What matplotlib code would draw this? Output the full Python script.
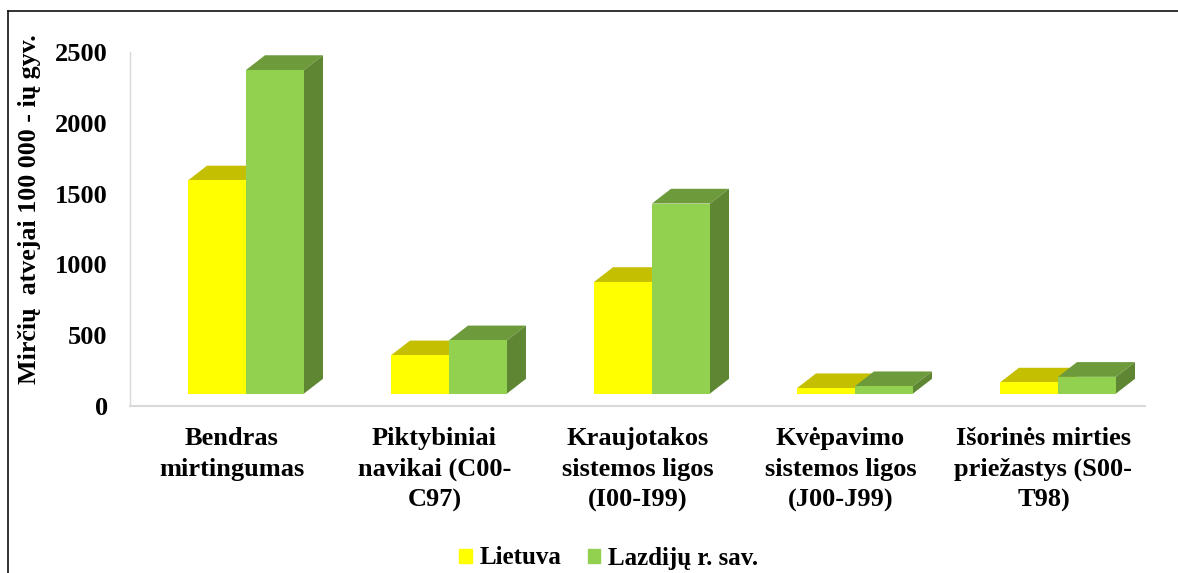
import matplotlib.pyplot as plt
from matplotlib.lines import Line2D
from matplotlib.patches import Patch, Polygon

plt.rcParams['font.family'] = ['Liberation Serif', 'DejaVu Serif']
plt.rcParams['font.weight'] = 'bold'

# duomenys
categories = ['Bendras\nmirtingumas', 'Piktybiniai\nnavikai (C00-\nC97)',
              'Kraujotakos\nsistemos ligos\n(I00-I99)', 'Kvėpavimo\nsistemos ligos\n(J00-J99)',
              'Išorinės mirties\npriežastys (S00-\nT98)']
lietuva = [1505, 270, 788, 38, 78]
lazdijai = [2285, 376, 1342, 52, 118]
y_ticks = [0, 500, 1000, 1500, 2000, 2500]

W, H = 1178, 573
fig = plt.figure(figsize=(W / 100, H / 100), dpi=100)
ax = fig.add_axes([130 / W, 1 - 406 / H, 1015 / W, 354 / H])
ax.set_xlim(-0.5, 4.5)
ax.set_ylim(0, 2500)

# 3D bar look: depth in data units
bar_w = 0.2857
depth_x = 0.0936
depth_y = 104
floor = 88
shift = 0.0714


def draw_bar(x_left, value, front, top, side):
    h = floor + value
    ax.bar(x_left, value, bar_w, bottom=floor, align='edge', color=front, zorder=3)
    ax.add_patch(Polygon([(x_left, h), (x_left + bar_w, h),
                          (x_left + bar_w + depth_x, h + depth_y), (x_left + depth_x, h + depth_y)],
                         facecolor=top, edgecolor='none', zorder=2))
    ax.add_patch(Polygon([(x_left + bar_w, floor), (x_left + bar_w + depth_x, floor + depth_y),
                          (x_left + bar_w + depth_x, h + depth_y), (x_left + bar_w, h)],
                         facecolor=side, edgecolor='none', zorder=2))


for i in range(len(categories)):
    draw_bar(i + shift - bar_w, lietuva[i], '#FFFF00', '#C4BF00', '#C4BF00')
    draw_bar(i + shift, lazdijai[i], '#92D050', '#6D9B3C', '#5F8733')

for s in ['top', 'right']:
    ax.spines[s].set_visible(False)
ax.spines['left'].set_color('#D9D9D9')
ax.spines['left'].set_linewidth(1.0)
ax.spines['bottom'].set_color('#D9D9D9')
ax.spines['bottom'].set_linewidth(1.5)

ax.set_yticks(y_ticks)
ax.set_xticks(range(len(categories)))
ax.set_xticklabels(categories, fontsize=19, linespacing=1.43)
ax.tick_params(axis='y', length=0, pad=16, labelsize=19)
ax.tick_params(axis='x', length=0, pad=15)

fig.text(30 / W, 1 - 209 / H, 'Mirčių  atvejai 100 000 - ių gyv.', rotation=90,
         fontsize=18.7, ha='center', va='center')

handles = [Patch(color='#FFFF00', label='Lietuva'), Patch(color='#92D050', label='Lazdijų r. sav.')]
fig.legend(handles=handles, loc='center', bbox_to_anchor=(608.5 / W, 1 - 558 / H), ncol=2, frameon=False,
           prop={'size': 18, 'weight': 'bold'}, handlelength=0.5, handleheight=0.5,
           handletextpad=0.3, columnspacing=1.05)

# rėmelis
fig.add_artist(Line2D([7.5 / W, 7.5 / W], [0, 1 - 11 / H], color='#111111', lw=1.2))
fig.add_artist(Line2D([7.5 / W, 1], [1 - 11 / H, 1 - 11 / H], color='#111111', lw=1.2))

plt.savefig('out.png', dpi=100)
